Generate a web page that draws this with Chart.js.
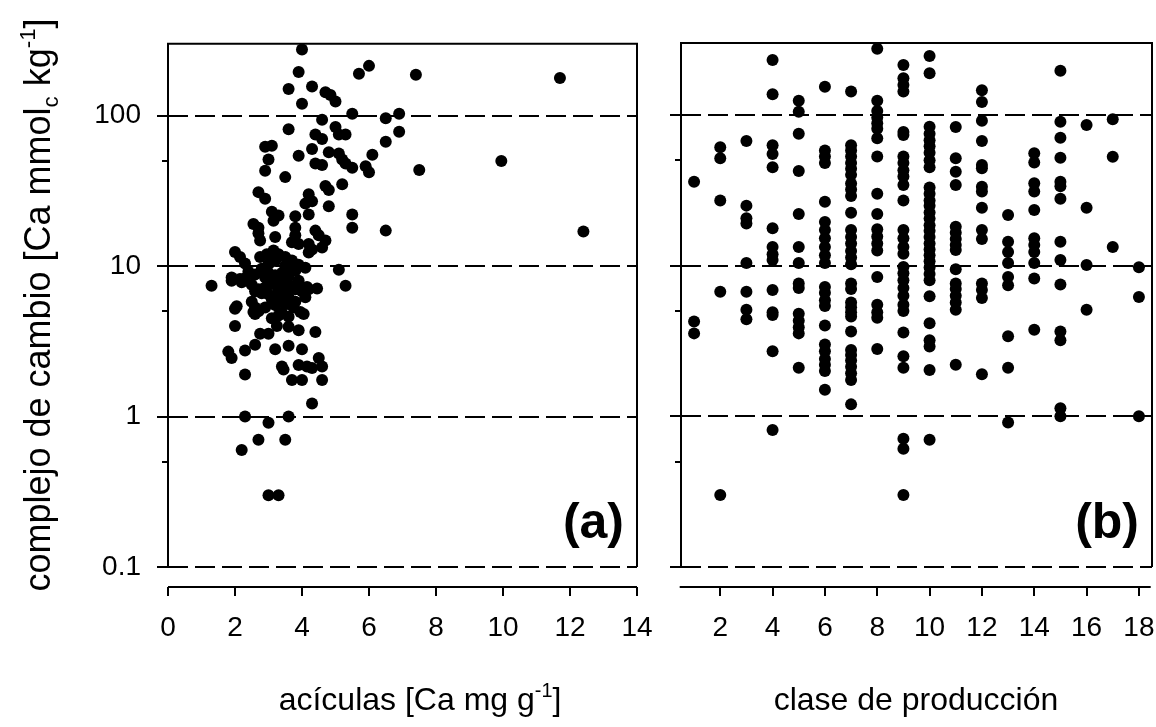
<!DOCTYPE html>
<html>
<head>
<meta charset="utf-8">
<script src="https://cdn.jsdelivr.net/npm/chart.js@4/dist/chart.umd.min.js"></script>
<style>
  body { margin: 0; background: #fff; }
  #izq { position: absolute; left: 0; top: 0; }
  #der { position: absolute; left: 660px; top: 0; }
</style>
</head>
<body>
<canvas id="izq" width="660" height="727"></canvas>
<canvas id="der" width="496" height="727"></canvas>
<script>
// panel (a): Ca en acículas vs Ca en el complejo de cambio
const aciculasCa = [
  4.0, 3.9, 5.7, 6.0, 7.4, 3.6, 4.3, 4.7, 4.85, 5.0, 4.0, 5.5, 6.5, 6.9, 6.9, 6.5, 4.6, 3.6, 5.0, 5.1,
  5.3, 4.4, 4.6, 2.9, 3.1, 3.0, 2.9, 3.5, 3.9, 4.3, 4.4, 4.6, 4.8, 5.1, 5.2, 5.3, 5.5, 6.1, 5.9, 6.0,
  7.5, 2.7, 2.9, 4.2, 4.3, 4.1, 4.7, 4.8, 5.2, 4.8, 3.1, 3.3, 3.15, 4.2, 3.8, 5.5, 5.5, 6.5, 2.55, 2.7,
  2.7, 2.75, 3.2, 3.8, 3.8, 3.7, 3.9, 4.4, 4.5, 4.7, 4.6, 4.2, 4.3, 4.2, 2.0, 2.15, 2.3, 2.75, 2.95, 3.15,
  3.3, 3.5, 3.7, 3.75, 4.1, 5.1, 1.3, 5.3, 3.95, 4.15, 4.45, 2.0, 2.55, 2.6, 2.0, 2.75, 3.0, 3.25, 3.6, 3.9,
  4.4, 3.95, 4.05, 3.75, 3.55, 1.8, 1.9, 2.3, 2.6, 3.2, 3.6, 4.0, 2.3, 3.4, 3.45, 3.9, 4.15, 4.3, 4.5, 4.6,
  3.7, 4.0, 4.6, 4.3, 2.3, 3.6, 3.0, 2.7, 3.5, 2.2, 3.0, 3.3, 1.9, 2.15, 2.05, 2.6, 9.95, 11.7, 12.4,
  2.3, 2.5, 2.6, 2.7, 2.8, 2.9, 3.0, 3.0, 3.1, 3.1, 3.2, 3.2, 3.3, 3.3, 3.4, 3.4, 3.5, 3.5, 3.6, 3.6,
  3.7, 3.8, 3.9, 4.0, 2.4, 2.8, 3.0, 3.2, 2.2, 1.9, 2.6, 3.5, 3.9, 2.9, 3.3, 3.6, 3.8, 4.2, 2.5, 2.7,
  3.1, 3.4, 4.1, 3.0, 3.7, 2.9, 3.3, 3.8
];
const complejoA = [
  275, 195, 190, 214, 187, 150, 156, 143, 137, 124, 120, 103, 96, 103, 78, 67, 94, 81, 84, 75,
  75, 75, 70, 62, 63, 51, 43, 39, 54, 60, 48, 47, 57, 56, 51, 48, 45, 55, 46, 42,
  43.5, 31, 28, 30, 27, 26, 34, 32, 35, 25, 23, 21.7, 20, 22, 21.4, 22, 18, 17.2, 19, 18,
  16.5, 14.8, 15.6, 18, 16, 14.4, 14, 17.2, 16, 14.8, 13.3, 14, 12.9, 12.3, 12.4, 11.5, 10.4, 11.5, 12, 12.7,
  12, 11.5, 10.9, 10.4, 9.75, 9.45, 7.4, 7.4, 7.25, 7.25, 7.1, 5.2, 4.95, 4.8, 4.0, 3.55, 3.55, 4.0, 3.95, 3.75,
  3.65, 4.95, 4.8, 5.3, 5.6, 2.7, 2.45, 2.75, 3.0, 2.8, 2.95, 2.8, 1.9, 2.15, 2.05, 2.2, 2.15, 2.1, 2.45, 2.15,
  1.75, 1.75, 1.75, 1.22, 1.0, 1.0, 0.91, 0.7, 0.7, 0.6, 0.3, 0.3, 8.4, 8.2, 5.4, 5.3, 50, 178, 17,
  8.3, 7.5, 6.8, 7.0, 6.6, 7.2, 8.0, 6.5, 7.6, 6.0, 8.7, 5.5, 7.0, 6.3, 9.0, 5.8, 7.8, 6.6, 8.5, 6.2,
  7.3, 9.3, 8.0, 6.8, 9.2, 9.6, 10.3, 10.8, 7.8, 8.0, 8.8, 10.0, 10.2, 5.3, 4.7, 4.6, 5.8, 7.0, 5.8, 5.0,
  4.5, 4.9, 6.2, 9.0, 9.6, 8.4, 8.3, 7.0
];

// panel (b): valores por clase de producción
const clases = [1, 2, 3, 4, 5, 6, 7, 8, 9, 10, 11, 12, 13, 14, 15, 16, 17, 18];
const complejoB = [
  [36, 4.25, 3.55],
  [61, 51.5, 27, 6.7, 0.3],
  [67, 25, 20.6, 19, 10.4, 6.7, 5.1, 4.4],
  [231, 137, 63, 55, 45, 17.7, 13.3, 11.9, 10.9, 6.9, 4.9, 4.7, 2.7, 0.81],
  [124, 105, 75, 42.5, 22, 13.3, 10.4, 7.6, 7.1, 4.8, 4.3, 3.9, 3.55, 2.1],
  [154, 58, 53, 48, 26.5, 19.5, 17.2, 15.2, 13.3, 11.7, 10.4, 7.2, 6.6, 5.9, 5.4, 4.0, 3.0, 2.7, 2.4, 2.2, 2.0, 1.5],
  [143, 63, 58, 53, 48, 44, 40, 35, 32, 29, 22.4, 17.2, 15.5, 14, 12.5, 11.3, 10.2, 7.6, 7.0, 5.7, 5.3, 4.9, 4.6, 3.65, 2.75, 2.55, 2.35, 2.13, 1.93, 1.74, 1.2],
  [275, 124, 106, 96, 88, 81, 70, 53, 30, 22, 17.4, 15.6, 14, 12.6, 8.4, 5.5, 4.9, 4.5, 2.8],
  [214, 175, 158, 143, 77, 73.5, 53, 48, 43, 39, 34.3, 27, 17.2, 15.2, 13.3, 12, 9.8, 8.9, 8.0, 7.1, 6.3, 5.5, 5.0, 3.6, 2.5, 2.1, 0.71, 0.61, 0.3],
  [246, 189, 83.6, 75, 68, 62, 56, 50, 45, 33, 30, 27, 25, 22.5, 20.5, 18.5, 17, 15.5, 14, 12.8, 11.7, 10.7, 9.7, 8.8, 8.0, 6.25, 4.15, 3.2, 2.9, 2.03, 0.7],
  [83, 51.5, 42, 34.3, 18.1, 16.5, 15, 13.7, 12.7, 9.45, 7.6, 7.0, 6.3, 5.7, 5.1, 2.2],
  [146, 122, 91.6, 67, 46.5, 44.3, 33.4, 31, 24.2, 17.2, 15, 7.6, 6.9, 6.1, 1.9],
  [21.7, 14.4, 12.3, 10.4, 8.4, 7.4, 3.4, 2.1, 0.91],
  [55.6, 48.4, 35.2, 31, 23.4, 15.2, 13.7, 12.3, 10.4, 8.2, 3.75],
  [196, 90, 70.6, 52, 36, 33.6, 27.8, 14.4, 10.9, 7.5, 3.65, 3.2, 1.13, 1.0],
  [85.7, 24.2, 10.1, 5.1],
  [93.5, 52.8, 13.3],
  [9.75, 6.2, 1.0]
];

// ejes
const decadas = [0.1, 1, 10, 100];
const menores = [0.5, 5, 50];
const ticksA = [0, 2, 4, 6, 8, 10, 12, 14];
const ticksB = [2, 4, 6, 8, 10, 12, 14, 16, 18];

const fuente = '"Liberation Sans", Arial, sans-serif';

// texto con sub/superindices: partes [texto, desplazamiento] (-1 sub, 1 sup)
function textoRico(ctx, partes, size) {
  let w = 0;
  const medidas = partes.map(([t, d]) => {
    const s = d ? size * 0.62 : size;
    ctx.font = s + 'px ' + fuente;
    const m = ctx.measureText(t).width;
    w += m;
    return [t, d, s, m];
  });
  let x = -w / 2;
  for (const [t, d, s, m] of medidas) {
    ctx.font = s + 'px ' + fuente;
    ctx.fillText(t, x, d == 1 ? -size * 0.42 : d == -1 ? size * 0.22 : 0);
    x += m;
  }
}

const deco = {
  id: 'deco',
  beforeDatasetsDraw(chart, args, o) {
    const { ctx, chartArea: a, scales: { x, y } } = chart;
    ctx.save();
    ctx.strokeStyle = '#000';
    ctx.lineWidth = 2;
    ctx.setLineDash([20, 7]);
    for (const v of decadas) {
      const py = Math.round(y.getPixelForValue(v));
      ctx.beginPath(); ctx.moveTo(a.left, py); ctx.lineTo(a.right, py); ctx.stroke();
    }
    ctx.setLineDash([]);
    ctx.beginPath();
    ctx.moveTo(a.left, a.bottom); ctx.lineTo(a.left, a.top);
    ctx.lineTo(a.right, a.top); ctx.lineTo(a.right, a.bottom);
    ctx.stroke();
    for (const v of decadas.concat(menores)) {
      const py = Math.round(y.getPixelForValue(v));
      const l = decadas.includes(v) ? 11 : 6;
      ctx.beginPath(); ctx.moveTo(a.left - l, py); ctx.lineTo(a.left, py); ctx.stroke();
    }
    // eje x separado del recuadro
    const ay = a.bottom + 20;
    ctx.beginPath();
    ctx.moveTo(x.getPixelForValue(o.desde), ay); ctx.lineTo(x.getPixelForValue(o.hasta), ay);
    ctx.stroke();
    for (const t of x.ticks) {
      const px = Math.round(x.getPixelForValue(t.value));
      ctx.beginPath(); ctx.moveTo(px, ay); ctx.lineTo(px, ay + 9); ctx.stroke();
    }
    ctx.restore();
  },
  afterDraw(chart, args, o) {
    const { ctx, chartArea: a } = chart;
    ctx.save();
    ctx.fillStyle = '#000';
    ctx.textAlign = 'right';
    ctx.textBaseline = 'alphabetic';
    ctx.font = 'bold 50px ' + fuente;
    ctx.fillText(o.letra, a.right - 13, 538);
    ctx.textAlign = 'left';
    ctx.save();
    ctx.translate(o.centroX, 710);
    textoRico(ctx, o.tituloX, 32);
    ctx.restore();
    if (o.tituloY) {
      ctx.translate(50, 305);
      ctx.rotate(-Math.PI / 2);
      textoRico(ctx, o.tituloY, 36);
    }
    ctx.restore();
  }
};

function opciones(xmin, xmax, ticks, extra) {
  return {
    responsive: false,
    animation: false,
    layout: { autoPadding: false, padding: extra.padding },
    plugins: { legend: { display: false }, tooltip: { enabled: false }, deco: extra.deco },
    scales: {
      x: {
        type: 'linear', min: xmin, max: xmax,
        afterBuildTicks: s => { s.ticks = ticks.map(v => ({ value: v })); },
        afterFit: s => { s.height = 160; s.paddingLeft = 0; s.paddingRight = 0; },
        grid: { display: false, drawTicks: false },
        border: { display: false },
        ticks: { color: '#000', padding: 44, maxRotation: 0, autoSkip: false, font: { family: fuente, size: 28 } }
      },
      y: {
        type: 'logarithmic', min: 0.1, max: 300,
        display: extra.yVisible,
        afterBuildTicks: s => { s.ticks = decadas.concat(menores).map(v => ({ value: v })); },
        afterFit: s => { s.width = extra.yVisible ? 168 : 0; },
        grid: { display: false, drawTicks: false },
        border: { display: false },
        ticks: {
          color: '#000', padding: 27, font: { family: fuente, size: 28 },
          callback: v => decadas.includes(v) ? String(v) : ''
        }
      }
    }
  };
}

const puntos = { backgroundColor: '#000', borderWidth: 0, pointRadius: 6, pointHoverRadius: 6 };

new Chart(document.getElementById('izq'), {
  type: 'scatter',
  data: { datasets: [Object.assign({ data: aciculasCa.map((v, i) => ({ x: v, y: complejoA[i] })) }, puntos)] },
  options: opciones(0, 14, ticksA, {
    padding: { left: 0, top: 43, right: 23, bottom: 0 },
    yVisible: true,
    deco: {
      letra: '(a)', desde: 0, hasta: 14, centroX: 420,
      tituloX: [['acículas [Ca mg g', 0], ['-1', 1], [']', 0]],
      tituloY: [['complejo de cambio [Ca mmol', 0], ['c', -1], [' kg', 0], ['-1', 1], [']', 0]]
    }
  }),
  plugins: [deco]
});

const datosB = [];
clases.forEach((c, i) => complejoB[i].forEach(v => datosB.push({ x: c, y: v })));

new Chart(document.getElementById('der'), {
  type: 'scatter',
  data: { datasets: [Object.assign({ data: datosB }, puntos)] },
  options: opciones(0.5, 18.5, ticksB, {
    padding: { left: 21, top: 43, right: 4, bottom: 0 },
    yVisible: false,
    deco: {
      letra: '(b)', desde: 0.45, hasta: 18.45, centroX: 256,
      tituloX: [['clase de producción', 0]]
    }
  }),
  plugins: [deco]
});
</script>
</body>
</html>
